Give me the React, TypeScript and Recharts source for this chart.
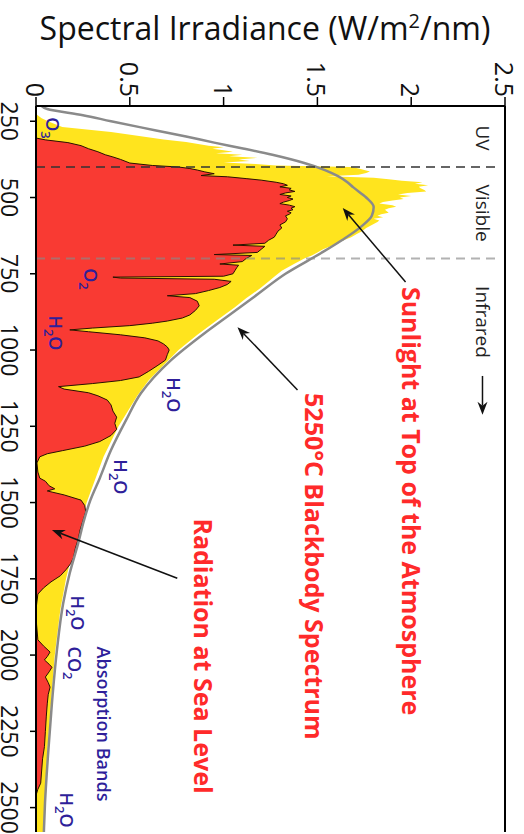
import React from 'react';
import { ComposedChart, Area, Line, XAxis, YAxis, ReferenceLine, ReferenceDot } from 'recharts';

// Sunlight at top of the atmosphere: [wavelength nm, W/m2/nm]
const topOfAtmosphere: [number, number][] = [
  [200, 0], [226, 0], [240, 0.03], [252, 0.07], [269, 0.14], [285, 0.4], [298, 0.55], [310, 0.68],
  [318, 0.8], [330, 0.92], [335, 1.0], [340, 0.94], [345, 1.0], [350, 1.05], [355, 0.96], [360, 1.1],
  [365, 1.03], [370, 1.18], [375, 1.08], [380, 1.14], [385, 1.0], [390, 1.17], [395, 1.28], [400, 1.68],
  [405, 1.72], [410, 1.75], [415, 1.78], [420, 1.76], [425, 1.72], [430, 1.55], [435, 1.8], [440, 1.88],
  [445, 1.95], [450, 2.06], [455, 2.02], [460, 2.09], [465, 2.04], [470, 2.05], [475, 2.07], [480, 2.08],
  [485, 1.98], [490, 1.93], [495, 2.0], [500, 1.94], [505, 1.96], [510, 1.9], [515, 1.85], [520, 1.83],
  [525, 1.9], [530, 1.92], [535, 1.88], [540, 1.86], [545, 1.87], [550, 1.88], [555, 1.84], [560, 1.82],
  [565, 1.85], [570, 1.8], [575, 1.83], [580, 1.82], [590, 1.79], [600, 1.76], [610, 1.74], [620, 1.71],
  [630, 1.68], [640, 1.64], [650, 1.6], [660, 1.57], [670, 1.53], [680, 1.5], [690, 1.47], [700, 1.43],
  [720, 1.37], [740, 1.31], [760, 1.27], [780, 1.23], [800, 1.19], [830, 1.12], [860, 1.06], [900, 0.97],
  [950, 0.86], [1000, 0.76], [1050, 0.68], [1100, 0.6], [1150, 0.54], [1200, 0.49], [1250, 0.44], [1300, 0.4],
  [1350, 0.36], [1400, 0.33], [1450, 0.3], [1500, 0.27], [1550, 0.245], [1600, 0.225], [1650, 0.2], [1700, 0.18],
  [1750, 0.16], [1800, 0.145], [1850, 0.13], [1900, 0.12], [1950, 0.11], [2000, 0.1], [2100, 0.087], [2200, 0.075],
  [2300, 0.062], [2400, 0.053], [2500, 0.044], [2580, 0.04],
];

// Radiation at sea level
const seaLevel: [number, number][] = [
  [305, 0], [311, 0.05], [320, 0.17], [330, 0.24], [340, 0.28], [350, 0.33], [360, 0.37],
  [367, 0.41], [375, 0.45], [387, 0.5], [395, 0.62], [400, 0.76], [405, 0.82], [410, 0.86], [416, 0.9],
  [422, 0.95], [428, 0.88], [432, 1.02], [438, 1.12], [443, 1.2], [450, 1.28], [455, 1.32], [460, 1.34],
  [465, 1.3], [470, 1.36], [475, 1.35], [480, 1.38], [485, 1.33], [490, 1.3], [495, 1.36], [500, 1.34],
  [505, 1.37], [510, 1.35], [515, 1.32], [520, 1.3], [525, 1.35], [530, 1.38], [535, 1.36], [540, 1.37],
  [545, 1.34], [550, 1.36], [555, 1.35], [560, 1.33], [570, 1.34], [580, 1.33], [590, 1.3], [600, 1.31],
  [610, 1.29], [620, 1.28], [630, 1.27], [640, 1.24], [650, 1.22], [656, 1.05], [660, 1.22], [670, 1.2],
  [680, 1.18], [687, 0.95], [690, 1.15], [700, 1.12], [710, 1.1], [718, 0.98], [722, 1.08], [730, 1.07],
  [740, 1.06], [750, 1.05], [758, 1.0], [761, 0.41], [764, 0.45], [768, 0.95], [775, 1.04], [785, 1.02],
  [795, 0.98], [805, 0.92], [815, 0.85], [822, 0.7], [828, 0.82], [840, 0.86], [855, 0.87], [870, 0.85],
  [885, 0.82], [895, 0.78], [905, 0.7], [912, 0.62], [920, 0.5], [928, 0.3], [934, 0.18], [940, 0.28],
  [950, 0.45], [960, 0.58], [970, 0.65], [980, 0.68], [990, 0.7], [1000, 0.71], [1015, 0.7], [1033, 0.69],
  [1050, 0.65], [1070, 0.6], [1088, 0.55], [1100, 0.45], [1110, 0.3], [1120, 0.12], [1128, 0.15], [1140, 0.28],
  [1150, 0.33], [1164, 0.38], [1180, 0.4], [1200, 0.41], [1220, 0.43], [1240, 0.42], [1260, 0.43], [1280, 0.4],
  [1300, 0.34], [1315, 0.26], [1330, 0.14], [1340, 0.06], [1350, 0.02], [1370, 0.005], [1400, 0.01], [1420, 0.02],
  [1430, 0.05], [1445, 0.07], [1455, 0.1], [1462, 0.06], [1475, 0.15], [1492, 0.24], [1510, 0.26], [1530, 0.265],
  [1560, 0.25], [1590, 0.235], [1620, 0.225], [1650, 0.21], [1680, 0.2], [1700, 0.185], [1720, 0.16], [1740, 0.13],
  [1760, 0.08], [1780, 0.04], [1800, 0.01], [1850, 0], [1900, 0.003], [1950, 0.01], [1970, 0.04], [1990, 0.075],
  [2005, 0.06], [2016, 0.045], [2030, 0.07], [2040, 0.085], [2055, 0.07], [2072, 0.05], [2090, 0.065], [2105, 0.075],
  [2130, 0.065], [2160, 0.06], [2200, 0.055], [2250, 0.05], [2300, 0.045], [2340, 0.035], [2380, 0.03], [2420, 0.025],
  [2440, 0.01], [2460, 0], [2580, 0],
];

// 5250 °C blackbody spectrum
const blackbody: [number, number][] = [
  [200, 0.03], [210, 0.06], [230, 0.25], [250, 0.4], [280, 0.64], [300, 0.8], [320, 0.95], [340, 1.11],
  [360, 1.26], [387, 1.43], [410, 1.54], [430, 1.61], [450, 1.66], [466, 1.69], [500, 1.76], [531, 1.8],
  [560, 1.79], [597, 1.73], [640, 1.63], [682, 1.52], [750, 1.33], [813, 1.19], [836, 1.14], [890, 1.02],
  [944, 0.9], [1033, 0.72], [1141, 0.56], [1230, 0.48], [1328, 0.4], [1420, 0.34], [1492, 0.29], [1560, 0.255],
  [1633, 0.225], [1731, 0.18], [1830, 0.145], [1993, 0.11], [2157, 0.085], [2320, 0.065], [2485, 0.048], [2580, 0.042],
];

const irradianceTicks = [0, 0.5, 1, 1.5, 2, 2.5];
const wavelengthTicks = [250, 500, 750, 1000, 1250, 1500, 1750, 2000, 2250, 2500];

const regionLabels = [
  { text: 'UV', wl: 305 },
  { text: 'Visible', wl: 551 },
  { text: 'Infrared', wl: 908 },
];

const curveLabels = [
  { text: 'Sunlight at Top of the Atmosphere', irr: 2.0, wl: 793 },
  { text: '5250\u00B0C Blackbody Spectrum', irr: 1.48, wl: 1141 },
  { text: 'Radiation at Sea Level', irr: 0.89, wl: 1552 },
];

const curveArrows = [
  { from: { irr: 1.97, wl: 777 }, to: { irr: 1.635, wl: 534 } },
  { from: { irr: 1.394, wl: 1131 }, to: { irr: 1.074, wl: 925 } },
  { from: { irr: 0.753, wl: 1748 }, to: { irr: 0.085, wl: 1590 } },
  { from: { irr: 2.38, wl: 1085 }, to: { irr: 2.38, wl: 1212 } },
];

const absorptionLabels = [
  { main: 'O', sub: '3', after: '', irr: 0.085, wl: 272 },
  { main: 'O', sub: '2', after: '', irr: 0.29, wl: 767 },
  { main: 'H', sub: '2', after: 'O', irr: 0.1, wl: 944 },
  { main: 'H', sub: '2', after: 'O', irr: 0.73, wl: 1147 },
  { main: 'H', sub: '2', after: 'O', irr: 0.45, wl: 1416 },
  { main: 'H', sub: '2', after: 'O', irr: 0.22, wl: 1862 },
  { main: 'CO', sub: '2', after: '', irr: 0.2, wl: 2026 },
  { main: 'H', sub: '2', after: 'O', irr: 0.16, wl: 2508 },
];

const bandsLabel = { text: 'Absorption Bands', irr: 0.36, wl: 2226 };

type Row = { wl: number; toa?: number; sea?: number; bb?: number };

function buildRows(): Row[] {
  const map = new Map<number, Row>();
  const put = (series: [number, number][], key: 'toa' | 'sea' | 'bb') => {
    series.forEach(([w, v]) => {
      const r = map.get(w) ?? { wl: w };
      r[key] = v;
      map.set(w, r);
    });
  };
  put(topOfAtmosphere, 'toa');
  put(seaLevel, 'sea');
  put(blackbody, 'bb');
  return Array.from(map.values()).sort((a, b) => a.wl - b.wl);
}

const rows = buildRows();
const FONT = '"Open Sans", "DejaVu Sans", sans-serif';

const TopTick = (props: any) => {
  const { x, y, payload } = props;
  return (
    <text x={x} y={y} transform={`rotate(90 ${x} ${y})`} textAnchor="end" dominantBaseline="central"
      fontFamily={FONT} fontSize={25} fill="#111">
      {payload.value}
    </text>
  );
};

const LeftTick = (props: any) => {
  const { x, y, payload } = props;
  return (
    <text x={x} y={y} transform={`rotate(90 ${x} ${y})`} textAnchor="middle" dominantBaseline="central"
      fontFamily={FONT} fontSize={23} fill="#111">
      {payload.value}
    </text>
  );
};

const arrowShape = (props: any) => {
  const { x1, y1, x2, y2 } = props;
  const ang = Math.atan2(y2 - y1, x2 - x1);
  const L = 13;
  const W = 5;
  const bx = x2 - L * Math.cos(ang);
  const by = y2 - L * Math.sin(ang);
  const nx = x2 - (L - 4) * Math.cos(ang);
  const ny = y2 - (L - 4) * Math.sin(ang);
  const px = -Math.sin(ang) * W;
  const py = Math.cos(ang) * W;
  return (
    <g>
      <line x1={x1} y1={y1} x2={nx} y2={ny} stroke="#111" strokeWidth={1.5} />
      <polygon points={`${x2},${y2} ${bx + px},${by + py} ${nx},${ny} ${bx - px},${by - py}`} fill="#111" />
    </g>
  );
};

const rotatedText = (text: string, size: number, color: string, weight: number | string, anchor: string) => (p: any) => (
  <g transform={`translate(${p.cx} ${p.cy}) rotate(90)`}>
    <text x={0} y={size * 0.36} textAnchor={anchor} fontFamily={FONT} fontSize={size} fontWeight={weight} fill={color}>
      {text}
    </text>
  </g>
);

const chemShape = (main: string, sub: string, after: string) => (p: any) => (
  <g transform={`translate(${p.cx} ${p.cy}) rotate(90)`}>
    <text x={0} y={6} textAnchor="middle" fontFamily={FONT} fontSize={18} fontWeight={600} fill="#2f1f9a">
      {main}
      <tspan fontSize={13} dy={5}>{sub}</tspan>
      {after ? <tspan dy={-5}>{after}</tspan> : null}
    </text>
  </g>
);

export default function App() {
  return (
    <div style={{ position: 'absolute', left: 0, top: 0, width: 524, height: 834, background: '#fff' }}>
      <ComposedChart width={524} height={834} data={rows} layout="vertical"
        margin={{ top: 0, right: 19, bottom: 2, left: 0 }}>
        <XAxis type="number" orientation="top" domain={[0, 2.5]} ticks={irradianceTicks} height={106}
          axisLine={{ stroke: '#000', strokeWidth: 2 }} tickLine={{ stroke: '#000', strokeWidth: 1.5 }}
          tickSize={9} tickMargin={0} tick={<TopTick />} interval={0} allowDataOverflow />
        <YAxis type="number" dataKey="wl" domain={[200, 2580]} ticks={wavelengthTicks} width={36}
          axisLine={{ stroke: '#000', strokeWidth: 2 }} tickLine={{ stroke: '#000', strokeWidth: 1.5 }}
          tickSize={6} tickMargin={20} tick={<LeftTick />} interval={0} allowDataOverflow />
        <Area dataKey="toa" type="linear" fill="#ffe41e" fillOpacity={1} stroke="none" connectNulls isAnimationActive={false} />
        <Area dataKey="sea" type="linear" fill="#f93a33" fillOpacity={1} stroke="#2a1000" strokeWidth={1} connectNulls isAnimationActive={false} />
        <Line dataKey="bb" type="monotone" stroke="#8a8a8a" strokeWidth={2.5} dot={false} connectNulls isAnimationActive={false} />
        <ReferenceLine segment={[{ x: 0, y: 400 }, { x: 2.47, y: 400 }]} stroke="#333" strokeWidth={1.6} strokeDasharray="9 6" />
        <ReferenceLine segment={[{ x: 0, y: 700 }, { x: 2.47, y: 700 }]} stroke="#888" strokeOpacity={0.65} strokeWidth={1.8} strokeDasharray="9 6" />
        <ReferenceLine x={2.5} stroke="#000" strokeWidth={2} />
        {curveArrows.map((a, i) => (
          <ReferenceLine key={`ar${i}`} segment={[{ x: a.from.irr, y: a.from.wl }, { x: a.to.irr, y: a.to.wl }]} shape={arrowShape} />
        ))}
        {regionLabels.map((r) => (
          <ReferenceDot key={r.text} x={2.38} y={r.wl} r={0} shape={rotatedText(r.text, 19, '#222', 400, 'middle')} />
        ))}
        {curveLabels.map((c) => (
          <ReferenceDot key={c.text} x={c.irr} y={c.wl} r={0} shape={rotatedText(c.text, 25, '#ff2a2a', 700, 'start')} />
        ))}
        {absorptionLabels.map((c, i) => (
          <ReferenceDot key={`ab${i}`} x={c.irr} y={c.wl} r={0} shape={chemShape(c.main, c.sub, c.after)} />
        ))}
        <ReferenceDot x={bandsLabel.irr} y={bandsLabel.wl} r={0} shape={rotatedText(bandsLabel.text, 18, '#2f1f9a', 600, 'middle')} />
      </ComposedChart>
      <svg width={524} height={60} style={{ position: 'absolute', left: 0, top: 0, pointerEvents: 'none' }}>
        <text x={265} y={40} textAnchor="middle" fontFamily={FONT} fontSize={32} fill="#111">
          Spectral Irradiance (W/m<tspan fontSize={20} dy={-12}>2</tspan><tspan dy={12}>/nm)</tspan>
        </text>
      </svg>
    </div>
  );
}
